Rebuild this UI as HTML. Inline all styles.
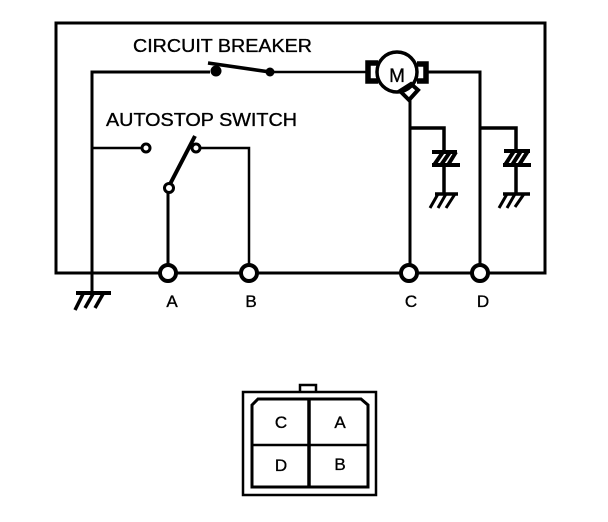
<!DOCTYPE html>
<html><head><meta charset="utf-8"><style>
html,body{margin:0;padding:0;background:#fff;width:608px;height:522px;overflow:hidden}
svg{display:block}
text{font-family:"Liberation Sans",sans-serif;fill:#000;stroke:#000;stroke-width:.35}
</style></head><body>
<svg width="608" height="522" viewBox="0 0 608 522" xmlns="http://www.w3.org/2000/svg">
<g fill="none" stroke="#000" stroke-width="2.5">
<!-- outer frame -->
<path d="M545 23H56V273H545Z" stroke-width="3"/>
<!-- wires -->
<path d="M92 295V72H210" stroke-width="3"/>
<path d="M92 148H146"/>
<path d="M168 273V188" stroke-width="3"/>
<path d="M196 148H249V273" stroke-width="2.5"/>
<path d="M270 72H366"/>
<path d="M426 72H480V273" stroke-width="3"/>
<path d="M410 98V273" stroke-width="3"/>
<path d="M410 128H444V152" stroke-width="3.5"/>
<path d="M480 128H516V152" stroke-width="3.5"/>
<path d="M444 165V194" stroke-width="3.5"/>
<path d="M516 165V194" stroke-width="3.5"/>
<!-- breaker -->
<path d="M208 63L270 72" stroke-width="3.5"/>
<!-- autostop arm -->
<path d="M168 188L195 136" stroke-width="4"/>
<!-- motor -->
<circle cx="397" cy="72" r="20" stroke-width="3.5"/>
<path d="M378 63H368V81H378" stroke-width="5.5"/>
<path d="M417 64H426V81H417" stroke-width="5.5"/>
<path d="M400 91L409 100L418 90L411 84Z" stroke-width="4"/>
<!-- capacitors -->
<path d="M432 152H457M432 165H460" stroke-width="4"/>
<path d="M434 165L443 152M441 165L450 152M448 165L456 152" stroke-width="4"/>
<path d="M504 151H530M503 165H531" stroke-width="4"/>
<path d="M505 165L514 151M512 165L521 151M519 165L528 151" stroke-width="4"/>
<!-- grounds -->
<path d="M435 194H458" stroke-width="3.5"/>
<path d="M503 194H530" stroke-width="3.5"/>
<path d="M430 208L438 194M438 208L446 194M446 208L455 194" stroke-width="3"/>
<path d="M499 208L507 194M507 208L515 194M515 207L524 194" stroke-width="3"/>
<path d="M76 293H111" stroke-width="4"/>
<path d="M75 310L83 294M85 308L93 294M95 308L103 294" stroke-width="3.5"/>
<!-- connector -->
<path d="M243 392H376V495H243Z" stroke-width="2.5"/>
<path d="M300 392V385H316V392" stroke-width="2.5"/>
<path d="M252 405L258 399H361L368 405V487H252Z" stroke-width="3"/>
<path d="M309 399V487" stroke-width="3.5"/>
<path d="M252 445H368" stroke-width="2.5"/>
</g>
<!-- terminals -->
<g fill="#fff" stroke="#000" stroke-width="4">
<circle cx="168" cy="273" r="8"/>
<circle cx="249" cy="273" r="8"/>
<circle cx="409" cy="273" r="8"/>
<circle cx="480" cy="273" r="8"/>
</g>
<g fill="#fff" stroke="#000" stroke-width="3">
<circle cx="146" cy="148" r="4"/>
<circle cx="196" cy="148" r="4"/>
<circle cx="169" cy="188" r="4.5"/>
</g>
<circle cx="216" cy="71" r="5.5" fill="#000"/>
<circle cx="270" cy="72" r="4.5" fill="#000"/>
<text x="133" y="52" font-size="18" textLength="179" lengthAdjust="spacingAndGlyphs">CIRCUIT BREAKER</text>
<text x="106" y="126" font-size="18" textLength="191" lengthAdjust="spacingAndGlyphs">AUTOSTOP SWITCH</text>
<text x="397" y="82" font-size="19" text-anchor="middle">M</text>
<g font-size="17" text-anchor="middle">
<text x="172" y="307">A</text>
<text x="251" y="307">B</text>
<text x="411" y="307">C</text>
<text x="483" y="307">D</text>
<text x="281" y="428">C</text>
<text x="340" y="428">A</text>
<text x="281" y="471">D</text>
<text x="340" y="470">B</text>
</g>
</svg>
</body></html>
